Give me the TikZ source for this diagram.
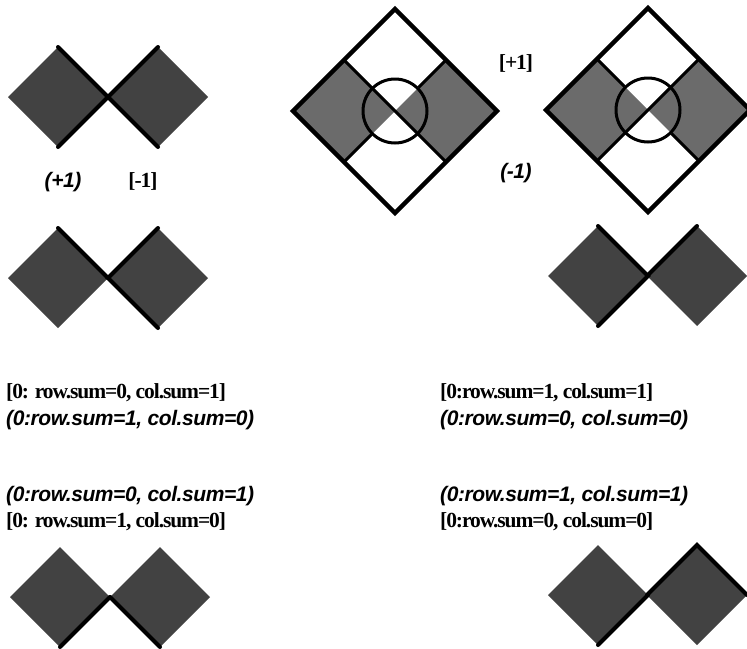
\documentclass[tikz,border=0pt]{standalone}
\usepackage{fontspec}
\setmainfont{Liberation Serif}
\setsansfont{Liberation Sans}
\newfontfamily\tightserif[LetterSpace=-5]{Liberation Serif}
\newfontfamily\tightsans[LetterSpace=-2]{Liberation Sans}
\usetikzlibrary{shapes.geometric}

\begin{document}
\begin{tikzpicture}[x=1pt,y=-1pt,
    cell/.style={diamond,aspect=1,minimum width=100pt,minimum height=100pt,
      inner sep=0pt,outer sep=0pt,fill=black!74},
    big/.style={diamond,aspect=1,minimum width=204pt,minimum height=204pt,
      inner sep=0pt,outer sep=0pt},
    rim/.style={line width=4pt,line cap=round},
    quad/.style={fill=black!58},
    cut/.style={line width=3pt},
    outline/.style={line width=4.5pt,line join=miter},
    ring/.style={circle,draw,line width=3pt,minimum size=64pt,inner sep=0pt},
    brk/.style={inner sep=0pt,font=\tightserif\bfseries\fontsize{21.5}{25}\selectfont},
    rnd/.style={inner sep=0pt,font=\tightsans\bfseries\itshape\fontsize{21}{25}\selectfont}]

    \useasboundingbox (0,0) rectangle (747,648);

    \node[cell] (a1) at (58,97) {};
    \node[cell] (a2) at (158,97) {};
    \draw[rim] (a1.north) -- (a1.east) -- (a1.south);
    \draw[rim] (a2.north) -- (a2.west) -- (a2.south);

    \node[cell] (b1) at (58,278) {};
    \node[cell] (b2) at (158,278) {};
    \draw[rim] (b1.north) -- (b1.east);
    \draw[rim] (b2.north) -- (b2.west) -- (b2.south);

    \node[cell] (c1) at (598,276) {};
    \node[cell] (c2) at (697,276) {};
    \draw[rim] (c1.north) -- (c1.east) -- (c1.south);
    \draw[rim] (c2.west) -- (c2.north);

    \node[cell] (d1) at (60,597) {};
    \node[cell] (d2) at (160,597) {};
    \draw[rim] (d1.east) -- (d1.south);
    \draw[rim] (d2.west) -- (d2.south);

    \node[cell] (e1) at (598,595) {};
    \node[cell] (e2) at (697,595) {};
    \draw[rim] (e1.east) -- (e1.south);
    \draw[rim] (e2.west) -- (e2.north) -- (e2.east);

    \node[big] (L1) at (395,111) {};
    \fill[quad] (L1.center) -- (L1.north west) -- (L1.west) -- (L1.south west) -- cycle;
    \fill[quad] (L1.center) -- (L1.north east) -- (L1.east) -- (L1.south east) -- cycle;
    \node[ring] (o1) at (L1.center) {};
    \draw[cut] (L1.north west) -- (L1.south east);
    \draw[cut] (L1.north east) -- (o1.north east);
    \draw[cut] (L1.south west) -- (o1.south west);
    \draw[outline] (L1.north) -- (L1.east) -- (L1.south) -- (L1.west) -- cycle;

    \node[big] (L2) at (648,110) {};
    \fill[quad] (L2.center) -- (L2.north west) -- (L2.west) -- (L2.south west) -- cycle;
    \fill[quad] (L2.center) -- (L2.north east) -- (L2.east) -- (L2.south east) -- cycle;
    \node[ring] (o2) at (L2.center) {};
    \draw[cut] (L2.north east) -- (L2.south west);
    \draw[cut] (L2.north west) -- (o2.north west);
    \draw[cut] (L2.south east) -- (o2.south east);
    \draw[outline] (L2.north) -- (L2.east) -- (L2.south) -- (L2.west) -- cycle;

    \node[rnd] (pa) at (63,182) {(+1)};
    \node[brk] (ma) at (143,181) {[-1]};
    \node[brk] (pb) at (516,63) {[+1]};
    \node[rnd] (mb) at (516,173) {(-1)};

    \node[brk,anchor=west] (t1) at (6,393) {[0: row.sum=0, col.sum=1]};
    \node[rnd,anchor=west] (t2) at (6,420) {(0:row.sum=1, col.sum=0)};
    \node[brk,anchor=west] (t3) at (440,393) {[0:row.sum=1, col.sum=1]};
    \node[rnd,anchor=west] (t4) at (440,420) {(0:row.sum=0, col.sum=0)};
    \node[rnd,anchor=west] (t5) at (6,496) {(0:row.sum=0, col.sum=1)};
    \node[brk,anchor=west] (t6) at (6,522) {[0: row.sum=1, col.sum=0]};
    \node[rnd,anchor=west] (t7) at (440,496) {(0:row.sum=1, col.sum=1)};
    \node[brk,anchor=west] (t8) at (440,522) {[0:row.sum=0, col.sum=0]};

\end{tikzpicture}
\end{document}
